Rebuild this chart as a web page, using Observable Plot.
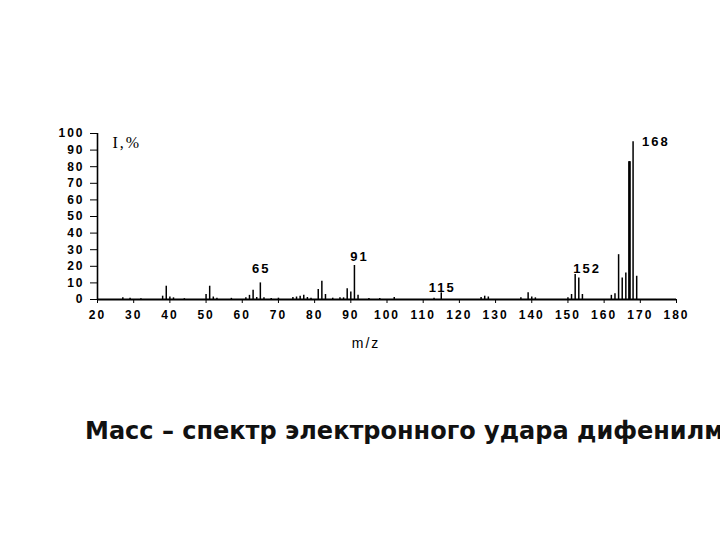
<!DOCTYPE html>
<html><head><meta charset="utf-8">
<script src="https://cdn.jsdelivr.net/npm/d3@7"></script>
<script src="https://cdn.jsdelivr.net/npm/@observablehq/plot@0.6"></script>
<style>
html,body{margin:0;padding:0;background:#fff;width:720px;height:540px;overflow:hidden;}
#chart{position:absolute;left:0;top:0;}
#chart text{letter-spacing:2px;}
#chart text.pk{letter-spacing:3px;}
#caption{position:absolute;left:85px;top:417px;font-family:"DejaVu Sans";font-weight:bold;font-size:24px;line-height:28px;white-space:nowrap;color:#111;}
</style></head><body>
<div id="chart"></div>
<div id="caption">Масс – спектр электронного удара дифенилметана</div>
<script>
// m/z values of the peaks and their relative intensities (%)
const mz = [27, 29, 32, 38, 39, 40, 41, 44, 50, 51, 52, 53, 57, 61, 62, 63, 64, 65, 66, 68, 70,
  74, 75, 76, 77, 78, 79, 81, 82, 83, 85, 87, 88, 89, 90, 91, 92, 95, 98, 102, 113, 115,
  126, 127, 128, 137, 139, 140, 141, 150, 151, 152, 153, 154, 162, 163, 164, 165, 166, 167, 168, 169];
const intensity = [1, 0.7, 0.5, 2, 8, 1.5, 1, 0.5, 3, 8, 1.5, 0.7, 0.7, 1, 2.5, 5.5, 1.2, 10, 1, 0.6, 0.8,
  1.2, 1.5, 2, 2.5, 1.2, 0.7, 6, 11, 3, 0.8, 1, 1, 6.5, 4.5, 20.5, 2.5, 0.6, 0.6, 1.2, 0.8, 4,
  1.2, 2, 1.5, 1, 4, 1.5, 1, 1, 3, 15, 13, 3, 2.5, 3.5, 27, 13, 16, 83, 95, 14];
const xTicks = [20, 30, 40, 50, 60, 70, 80, 90, 100, 110, 120, 130, 140, 150, 160, 170, 180];
const yTicks = [0, 10, 20, 30, 40, 50, 60, 70, 80, 90, 100];
const labelled = [65, 91, 115, 152, 168];
const xLabel = "m/z";
const yLabel = "I,%";

const data = mz.map((m, k) => ({m, i: intensity[k]}));
const peak = m => data.filter(d => d.m === m);

const lab = {fontFamily: "Liberation Sans", fontWeight: "bold", fontSize: 13, fill: "#000", className: "pk"};

const chart = Plot.plot({
  width: 720, height: 360,
  marginLeft: 97, marginRight: 44, marginTop: 133, marginBottom: 61,
  x: {domain: [20, 180]},
  y: {domain: [0, 100]},
  style: {fontFamily: "Liberation Sans", fontSize: "12px", fontWeight: "bold", color: "#000", background: "#fff"},
  marks: [
    Plot.axisX({ticks: xTicks, tickSize: 4, tickPadding: 7, label: null, tickFormat: d => d}),
    Plot.axisY({ticks: yTicks, tickSize: 7, tickPadding: 6, label: null, tickFormat: d => d}),
    Plot.ruleX([20], {strokeWidth: 1.6}),
    Plot.ruleY([0], {strokeWidth: 2}),
    Plot.ruleX(data, {x: "m", y1: 0, y2: "i", strokeWidth: 1.5}),
    Plot.ruleX(peak(167), {x: "m", y1: 0, y2: "i", strokeWidth: 2.6}),
    Plot.text(peak(65), {x: "m", y: "i", text: d => d.m, lineAnchor: "bottom", dx: 1, dy: -10, ...lab}),
    Plot.text(peak(91), {x: "m", y: "i", text: d => d.m, lineAnchor: "bottom", dx: 5, dy: -4, ...lab}),
    Plot.text(peak(115), {x: "m", y: "i", text: d => d.m, lineAnchor: "bottom", dx: 1, dy: -1, ...lab}),
    Plot.text(peak(152), {x: "m", y: "i", text: d => d.m, lineAnchor: "bottom", dx: 12, dy: -2, ...lab}),
    Plot.text(peak(168), {x: "m", y: "i", text: d => d.m, textAnchor: "start", lineAnchor: "middle", dx: 9, ...lab}),
    Plot.text([xLabel], {frameAnchor: "bottom", dx: -21, dy: 48, fontFamily: "Liberation Sans", fontWeight: "normal", fontSize: 14, fill: "#000"}),
    Plot.text([yLabel], {frameAnchor: "top-left", textAnchor: "start", dx: 15, dy: 3, fontFamily: "Liberation Serif", fontWeight: "normal", fontSize: 16, fill: "#000"})
  ]
});
document.getElementById("chart").appendChild(chart);
</script>
</body></html>
